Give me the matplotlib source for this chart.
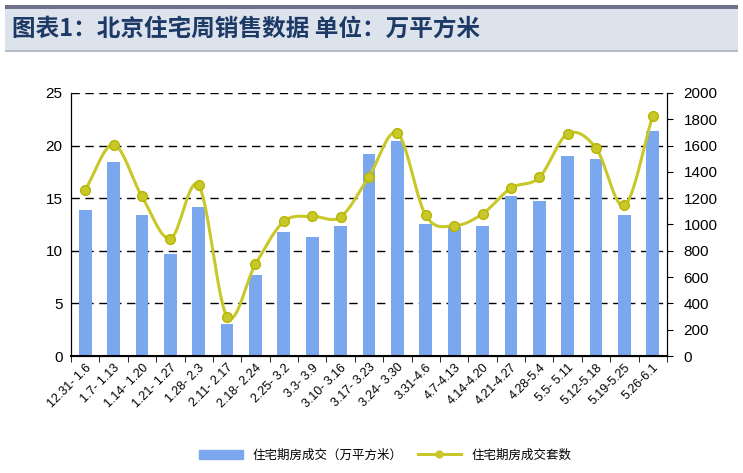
import numpy as np
import matplotlib.pyplot as plt
from matplotlib.patches import Rectangle
from matplotlib.lines import Line2D

plt.rcParams['font.family'] = ['Noto Sans CJK SC', 'DejaVu Sans']

periods = ['12.31- 1.6', '1.7- 1.13', '1.14- 1.20', '1.21- 1.27', '1.28- 2.3',
           '2.11- 2.17', '2.18- 2.24', '2.25- 3.2', '3.3- 3.9', '3.10- 3.16',
           '3.17- 3.23', '3.24- 3.30', '3.31-4.6', '4.7-4.13', '4.14-4.20',
           '4.21-4.27', '4.28-5.4', '5.5- 5.11', '5.12-5.18', '5.19-5.25', '5.26-6.1']
area = [13.9, 18.4, 13.4, 9.7, 14.2, 3.05, 7.7, 11.8, 11.35, 12.4, 19.2,
        20.4, 12.55, 12.3, 12.4, 15.2, 14.7, 19.0, 18.75, 13.4, 21.4]
units = [1264, 1607, 1213, 893, 1297, 300, 698, 1023, 1061, 1058, 1365,
         1695, 1069, 990, 1081, 1277, 1358, 1690, 1581, 1145, 1827]

bar_color = '#7ba7ee'
line_color = '#c8c82a'
num_font = 'Liberation Sans'


def smooth(x, y, n=20):
    # Catmull-Rom curve, similar to Excel's smoothed line
    x = np.asarray(x, float)
    y = np.asarray(y, float)
    px = np.concatenate([[2 * x[0] - x[1]], x, [2 * x[-1] - x[-2]]])
    py = np.concatenate([[2 * y[0] - y[1]], y, [2 * y[-1] - y[-2]]])
    xs, ys = [], []
    t = np.linspace(0, 1, n, endpoint=False)
    for i in range(1, len(px) - 2):
        for p, out in ((px, xs), (py, ys)):
            p0, p1, p2, p3 = p[i - 1], p[i], p[i + 1], p[i + 2]
            out.extend(0.5 * ((2 * p1) + (-p0 + p2) * t
                              + (2 * p0 - 5 * p1 + 4 * p2 - p3) * t ** 2
                              + (-p0 + 3 * p1 - 3 * p2 + p3) * t ** 3))
    xs.append(x[-1])
    ys.append(y[-1])
    return np.array(xs), np.array(ys)


fig = plt.figure(figsize=(7.43, 4.73), dpi=100)

# title banner
fig.patches.append(Rectangle((5 / 743, 1 - 50 / 473), 733 / 743, 44 / 473,
                             transform=fig.transFigure, facecolor='#dde3ec',
                             edgecolor='none', zorder=0))
fig.patches.append(Rectangle((5 / 743, 1 - 9 / 473), 733 / 743, 4 / 473,
                             transform=fig.transFigure, facecolor='#6e7189',
                             edgecolor='none', zorder=1))
fig.patches.append(Rectangle((5 / 743, 1 - 52 / 473), 733 / 743, 2 / 473,
                             transform=fig.transFigure, facecolor='#b8bcc4',
                             edgecolor='none', zorder=1))
fig.text(12 / 743, 1 - 29 / 473, '图表1：北京住宅周销售数据 单位：万平方米',
         fontsize=17, fontweight='bold', style='italic', color='#1d3a66',
         va='center', ha='left')

ax = fig.add_axes([71 / 743, 117 / 473, 596 / 743, 263 / 473])
x = np.arange(len(periods))
ax.bar(x, area, width=0.45, color=bar_color, zorder=2)
ax.set_xlim(-0.5, len(periods) - 0.5)
ax.set_ylim(0, 25)
ax.set_yticks(np.arange(0, 26, 5))
ax.yaxis.grid(True, color='black', linestyle=(0, (6, 4)), linewidth=1)
ax.set_axisbelow(True)
ax.tick_params(axis='y', length=0, labelsize=11, pad=6)
ax.set_xticks(x)
ax.set_xticklabels(periods, rotation=45, ha='right', rotation_mode='anchor',
                   fontsize=9, family=num_font)
ax.set_xticks(np.arange(-0.5, len(periods)), minor=True)
ax.tick_params(axis='x', which='major', length=0, pad=4)
ax.tick_params(axis='x', which='minor', length=4, direction='out')
ax.spines['top'].set_visible(False)
ax.spines['bottom'].set_linewidth(1.5)
for lab in ax.get_yticklabels():
    lab.set_family(num_font)

ax2 = ax.twinx()
sx, sy = smooth(x, units)
ax2.plot(sx, sy, color=line_color, linewidth=2.2, zorder=3)
ax2.plot(x, units, 'o', color=line_color, markersize=7,
         markeredgecolor='#b5b500', zorder=4)
ax2.set_ylim(0, 2000)
ax2.set_yticks(np.arange(0, 2001, 200))
ax2.tick_params(axis='y', length=4, labelsize=11, pad=8)
ax2.spines['top'].set_visible(False)
for lab in ax2.get_yticklabels():
    lab.set_family(num_font)

handles = [Rectangle((0, 0), 1, 1, color=bar_color),
           Line2D([], [], color=line_color, linewidth=2.2, marker='o',
                  markersize=5)]
fig.legend(handles, ['住宅期房成交（万平方米）', '住宅期房成交套数'],
           loc='center', bbox_to_anchor=(385 / 743, 1 - 455 / 473), ncol=2,
           frameon=False, fontsize=9, handlelength=3.5, columnspacing=1.2)

fig.savefig('out.png', dpi=100)
